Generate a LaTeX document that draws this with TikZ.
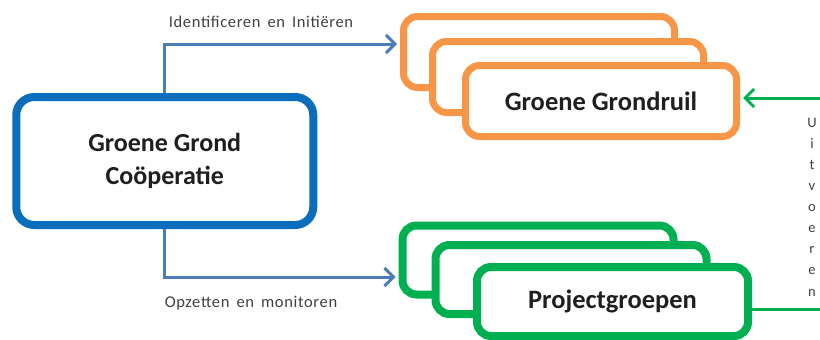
\documentclass[tikz,border=0pt]{standalone}
\usepackage{fontspec}
\setmainfont{Carlito}
\newfontfamily\lblfont[LetterSpace=4,WordSpace=1.6]{Carlito}
\usetikzlibrary{arrows.meta}
\definecolor{boxblue}{HTML}{0A6EBD}
\definecolor{arrblue}{HTML}{4A7DBA}
\definecolor{boxorange}{HTML}{F79646}
\definecolor{boxgreen}{HTML}{00B050}
\definecolor{lblgray}{HTML}{404040}
\tikzset{
  mainbox/.style={draw=boxblue, line width=8pt, rounded corners=18pt, fill=white,
    minimum width=297pt, minimum height=128pt, align=center, text=black!88,
    font=\bfseries\fontsize{26}{33}\selectfont},
  ostack/.style={draw=boxorange, line width=7pt, rounded corners=14pt, fill=white,
    minimum width=271pt, minimum height=71pt, text=black!88,
    font=\bfseries\fontsize{26.5}{32}\selectfont},
  gstack/.style={draw=boxgreen, line width=8pt, rounded corners=14pt, fill=white,
    minimum width=271pt, minimum height=69pt, text=black!88,
    font=\bfseries\fontsize{26.5}{32}\selectfont},
  barrow/.style={draw=arrblue, line width=3pt, -{Straight Barb[length=9pt,width=18pt]}, shorten >=3pt},
  garrow/.style={draw=boxgreen, line width=3pt, -{Straight Barb[length=9pt,width=18pt]}, shorten >=3pt},
  lbl/.style={text=lblgray, font=\lblfont\fontsize{16.5}{20}\selectfont},
  vlabel/.style={text=lblgray, align=center, font=\fontsize{14.5}{21.1}\selectfont},
}
\begin{document}
\begin{tikzpicture}[x=1pt,y=-1pt]
\useasboundingbox (0,0) rectangle (820,340);
\node[mainbox] (coop) at (164.75,161) {Groene Grond\\Coöperatie};

\node[ostack] (gg1) at (539,52) {};
\node[ostack] (gg2) at (568,77) {};
\node[ostack] (gg) at (601,101) {Groene Grondruil};

\node[gstack] (pg1) at (538,260) {};
\node[gstack] (pg2) at (571,279.5) {};
\node[gstack] (pg) at (612.5,301.5) {Projectgroepen};

\draw[barrow] (coop.north) |- ([yshift=8pt]gg1.west);
\draw[barrow] (coop.south) |- ([yshift=-17pt]pg1.west);

\coordinate (far) at (835,200);
\draw[garrow] ([yshift=-8pt]pg.east) -| (far) |- ([yshift=3pt]gg.east);

\node[lbl] (l1) at (261,22) {Identificeren en Initiëren};
\node[lbl] (l2) at (251,303) {Opzetten en monitoren};
\node[vlabel] (uit) at (812,207) {U\\i\\t\\v\\o\\e\\r\\e\\n};
\end{tikzpicture}
\end{document}
